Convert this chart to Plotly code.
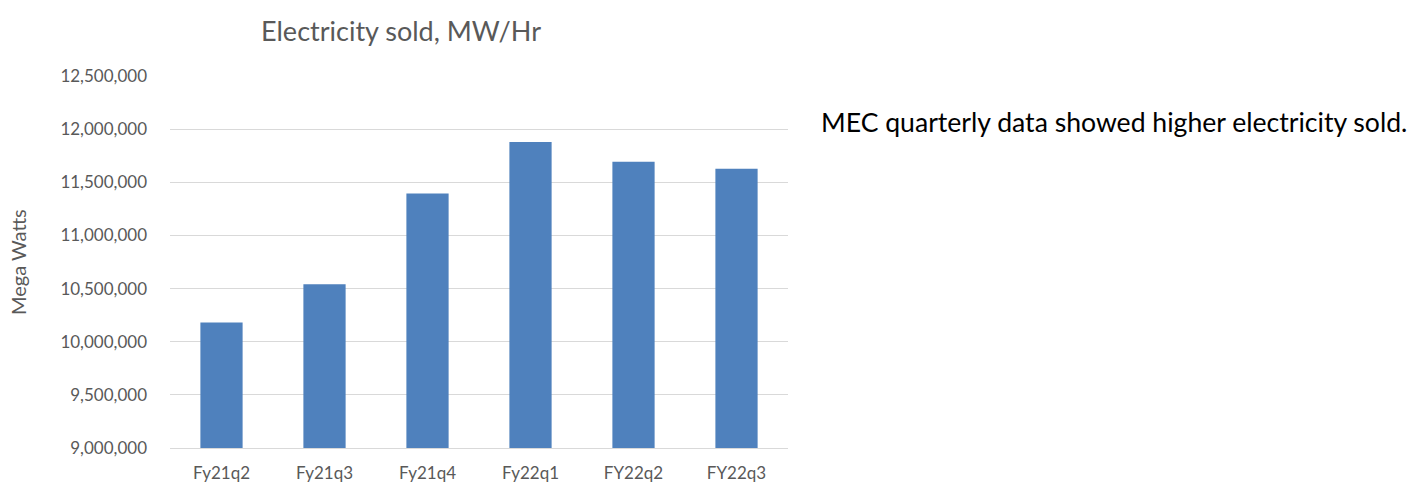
import plotly.graph_objects as go

quarters = ["Fy21q2", "Fy21q3", "Fy21q4", "Fy22q1", "FY22q2", "FY22q3"]
mw_sold = [10180000, 10540000, 11394000, 11878000, 11694000, 11628000]
y_ticks = [9000000, 9500000, 10000000, 10500000, 11000000, 11500000, 12000000, 12500000]

grey = "#595959"
font_family = "Lato, 'Open Sans', sans-serif"

# plot area in pixels
L, R, T, B = 170, 788, 76, 448
W, H = 1422, 485

fig = go.Figure(
    go.Bar(
        x=quarters,
        y=mw_sold,
        marker=dict(color="#4f81bd", line=dict(width=0)),
        width=0.41,
    )
)

fig.update_layout(
    width=W,
    height=H,
    margin=dict(l=L, r=W - R, t=T, b=H - B),
    paper_bgcolor="white",
    plot_bgcolor="white",
    showlegend=False,
    font=dict(family=font_family, color=grey),
    title=dict(
        text="Electricity sold, MW/Hr",
        x=401 / W,
        xanchor="center",
        y=1 - 32 / H,
        yanchor="middle",
        font=dict(size=27, color=grey, family=font_family),
    ),
)

fig.update_yaxes(
    range=[9000000, 12500000],
    tickvals=y_ticks,
    tickformat=",d",
    tickfont=dict(size=17, color=grey),
    showgrid=True,
    gridcolor="#d9d9d9",
    gridwidth=1,
    zeroline=False,
    showline=False,
    ticks="",
    ticklabelstandoff=22,
    automargin=False,
)

fig.update_xaxes(
    tickfont=dict(size=17, color=grey),
    showline=True,
    linecolor="#d9d9d9",
    linewidth=1,
    ticks="",
    ticklabelstandoff=10,
    automargin=False,
)

# y-axis title
fig.add_annotation(
    text="Mega Watts",
    xref="paper",
    yref="paper",
    x=(18 - L) / (R - L),
    y=(B - 262) / (B - T),
    xanchor="center",
    yanchor="middle",
    textangle=-90,
    showarrow=False,
    font=dict(size=20, color=grey, family=font_family),
)

# side note
fig.add_annotation(
    text="MEC quarterly data showed higher electricity sold.",
    xref="paper",
    yref="paper",
    x=(819 - L) / (R - L),
    y=(B - 122) / (B - T),
    xanchor="left",
    yanchor="middle",
    showarrow=False,
    font=dict(size=26.6, color="#000000", family=font_family),
)

fig.write_html("out.html")
